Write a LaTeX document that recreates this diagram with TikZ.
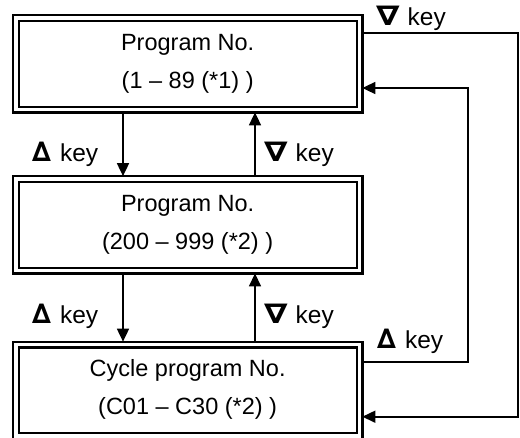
\documentclass[tikz,border=0pt]{standalone}
\usepackage{fontspec}
\setmainfont{Liberation Sans}
\newfontfamily\symf{DejaVu Sans Bold}
\usetikzlibrary{arrows.meta}
\newcommand{\upsym}{{\symf\fontsize{27}{28}\selectfont ∆}}
\newcommand{\dnsym}{\scalebox{1.25}[1]{\symf\fontsize{27}{28}\selectfont ∇}}
\begin{document}
\begin{tikzpicture}[x=1pt,y=-1pt,
  modebox/.style={draw, line width=2.3pt, double=white, double distance=3.4pt,
    minimum width=343.7pt, minimum height=91.5pt, inner sep=0pt, outer sep=2.9pt},
  boxtext/.style={anchor=base, inner sep=0pt, font=\fontsize{23.5}{28}\selectfont},
  keylabel/.style={anchor=base west, inner sep=0pt, font=\fontsize{24.5}{28}\selectfont},
  conn/.style={line width=1.7pt},
  arr/.style={conn, -{Triangle[length=13pt,width=12pt]}}]
\useasboundingbox (0,0) rectangle (520,437);
% boxes
\node[modebox] (b1) at (187.65,63.75) {};
\node[modebox] (b2) at (187.65,224.8) {};
\node[modebox] (b3) at (187.65,390.3) {};
% box texts
\node[boxtext] (b1a) at (187.65,50.5) {Program No.};
\node[boxtext] (b1b) at (187.65,88.5) {(1 – 89 (*1) )};
\node[boxtext] (b2a) at (187.65,211.5) {Program No.};
\node[boxtext] (b2b) at (187.65,249.5) {(200 – 999 (*2) )};
\node[boxtext] (b3a) at (187.65,376.5) {Cycle program No.};
\node[boxtext] (b3b) at (187.65,414.5) {(C01 – C30 (*2) )};
% helper coordinates
\coordinate (dn) at (123,0);
\coordinate (up) at (255,0);
\coordinate (t1) at (518,33);
\coordinate (t2) at (518,416.7);
\coordinate (u1) at (467.7,361.7);
\coordinate (u2) at (467.7,88);
% vertical arrows
\draw[arr] (b1.south -| dn) -- (b2.north -| dn);
\draw[arr] (b2.north -| up) -- (b1.south -| up);
\draw[arr] (b2.south -| dn) -- (b3.north -| dn);
\draw[arr] (b3.north -| up) -- (b2.south -| up);
% loops on the right
\draw[arr] (b1.east |- t1) -- (t1) -- (t2) -- (b3.east |- t2);
\draw[arr] (b3.east |- u1) -- (u1) -- (u2) -- (b1.east |- u2);
% key labels
\node[keylabel] (k1) at (376,25) {\dnsym\hspace{8pt}key};
\node[keylabel] (k2) at (32,161) {\upsym\hspace{9pt}key};
\node[keylabel] (k3) at (264,161) {\dnsym\hspace{8pt}key};
\node[keylabel] (k4) at (32,323) {\upsym\hspace{9pt}key};
\node[keylabel] (k5) at (264,323) {\dnsym\hspace{8pt}key};
\node[keylabel] (k6) at (377,348) {\upsym\hspace{9pt}key};
\end{tikzpicture}
\end{document}
